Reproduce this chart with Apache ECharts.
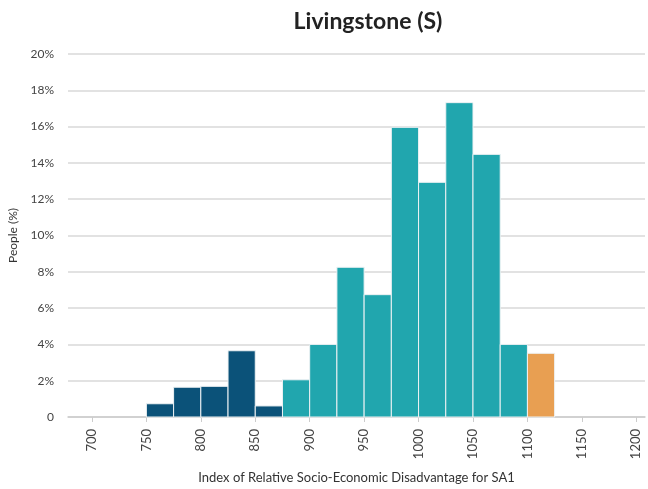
<!DOCTYPE html>
<html style="height: 100%">
<head>
    <meta charset="utf-8">
</head>
<body style="height: 100%; margin: 0; background: #fff">
<div id="container" style="height: 100%"></div>
<script src="https://cdn.jsdelivr.net/npm/echarts@6/dist/echarts.min.js"></script>
<script type="text/javascript">
    // bins are 25 wide, value = % of people
    var binStart = [750, 775, 800, 825, 850, 875, 900, 925, 950, 975, 1000, 1025, 1050, 1075, 1100];
    var binValue = [0.73, 1.64, 1.69, 3.65, 0.61, 2.05, 4.0, 8.25, 6.74, 15.96, 12.93, 17.32, 14.47, 4.0, 3.51];
    var binGroup = ['low', 'low', 'low', 'low', 'low', 'mid', 'mid', 'mid', 'mid', 'mid', 'mid', 'mid', 'mid', 'mid', 'high'];
    var binWidth = 25;
    var xTicks = [700, 750, 800, 850, 900, 950, 1000, 1050, 1100, 1150, 1200];

    var groupColor = {low: '#0b5279', mid: '#21a6ae', high: '#e89f52'};

    var data = [];
    for (var i = 0; i < binStart.length; i++) {
        data.push([binStart[i], binStart[i] + binWidth, binValue[i], binGroup[i]]);
    }

    var dom = document.getElementById("container");
    var myChart = echarts.init(dom);
    var font = 'Lato, "Open Sans", sans-serif';

    var option = {
        animation: false,
        textStyle: {fontFamily: font},
        title: {
            text: 'Livingstone (S)',
            left: 363,
            top: 5,
            textAlign: 'center',
            textStyle: {fontFamily: font, fontSize: 23, fontWeight: 'bold', color: '#222'}
        },
        grid: {left: 68, right: 3, top: 54, bottom: 72, outerBoundsMode: 'none'},
        xAxis: {
            type: 'value',
            min: 678,
            max: 1208,
            name: 'Index of Relative Socio-Economic Disadvantage for SA1',
            nameLocation: 'middle',
            nameGap: 54,
            nameTextStyle: {fontFamily: font, fontSize: 13, color: '#333'},
            splitLine: {show: false},
            axisLine: {lineStyle: {color: '#ccc', width: 1.5}},
            axisTick: {show: true, customValues: xTicks, length: 5, lineStyle: {color: '#ccc'}},
            axisLabel: {
                customValues: xTicks,
                rotate: 90,
                margin: 12,
                fontSize: 13,
                color: '#444',
                formatter: function (v) {
                    return String(v);
                }
            }
        },
        yAxis: {
            type: 'value',
            min: 0,
            max: 20,
            interval: 2,
            name: 'People (%)',
            nameLocation: 'middle',
            nameGap: 37,
            nameRotate: 90,
            nameTextStyle: {fontFamily: font, fontSize: 12, color: '#333'},
            axisLine: {show: false},
            axisTick: {show: false},
            splitLine: {lineStyle: {color: '#d9d9d9', width: 1.5}},
            axisLabel: {
                margin: 14,
                fontSize: 12,
                color: '#444',
                formatter: function (v) {
                    return v === 0 ? '0' : v + '%';
                }
            }
        },
        series: [{
            type: 'custom',
            renderItem: function (params, api) {
                var p0 = api.coord([api.value(0), api.value(2)]);
                var p1 = api.coord([api.value(1), 0]);
                return {
                    type: 'rect',
                    shape: {x: p0[0], y: p0[1], width: p1[0] - p0[0], height: p1[1] - p0[1]},
                    style: {
                        fill: groupColor[data[params.dataIndex][3]],
                        stroke: '#eef2f4',
                        lineWidth: 1
                    }
                };
            },
            encode: {x: [0, 1], y: 2},
            data: data
        }]
    };

    myChart.setOption(option);
    window.addEventListener("resize", function () {
        myChart.resize();
    });
</script>
</body>
</html>
